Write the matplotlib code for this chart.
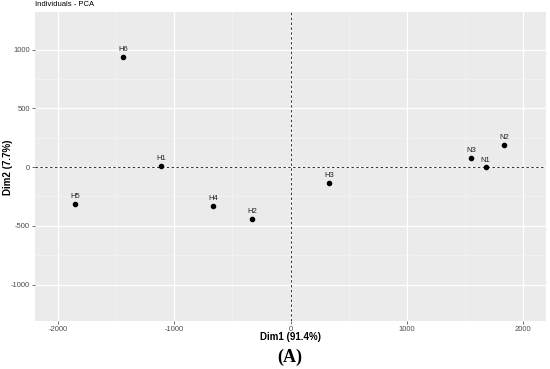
import matplotlib.pyplot as plt

plt.rcParams["font.family"] = ["Liberation Sans", "DejaVu Sans"]

names = ["H1", "H2", "H3", "H4", "H5", "H6", "N1", "N2", "N3"]
dim1 = [-1114, -331, 331, -667, -1854, -1441, 1679, 1839, 1555]
dim2 = [13, -438, -132, -328, -311, 940, -2, 191, 78]

xticks = [-2000, -1000, 0, 1000, 2000]
yticks = [-1000, -500, 0, 500, 1000]

fig = plt.figure(figsize=(5.5, 3.69), dpi=100)
ax = fig.add_axes([35/550, 1-321/369, 511/550, 309/369])
ax.set_facecolor("#EBEBEB")
for s in ax.spines.values():
    s.set_visible(False)

ax.set_xlim(-2198, 2198)
ax.set_ylim(-1310, 1320)
ax.set_xticks(xticks, [str(v) for v in xticks])
ax.set_yticks(yticks, [str(v) for v in yticks])
ax.set_xticks([-1500, -500, 500, 1500], minor=True)
ax.set_yticks([-750, -250, 250, 750], minor=True)
ax.grid(which="major", color="white", lw=0.9)
ax.grid(which="minor", color="#F4F4F4", lw=0.5)
ax.set_axisbelow(True)
ax.tick_params(which="major", length=2, width=0.5, color="#333333",
               labelsize=5.5, labelcolor="#4D4D4D", pad=1.5)
ax.tick_params(which="minor", length=0)

ax.axhline(0, color="#333333", ls=(0, (2.5, 2.5)), lw=0.7)
ax.axvline(0, color="#333333", ls=(0, (2.5, 2.5)), lw=0.7)

ax.scatter(dim1, dim2, s=9, color="black", zorder=3)
for n, x, y in zip(names, dim1, dim2):
    ax.annotate(n, (x, y), xytext=(0, 2.5), textcoords="offset points",
                ha="center", va="bottom", fontsize=5.5, color="#222222")

fig.text(290/550, 1-337/369, "Dim1 (91.4%)", fontsize=7, fontweight="bold",
         ha="center", va="center")
fig.text(8/550, 1-167/369, "Dim2 (7.7%)", fontsize=7, fontweight="bold",
         ha="center", va="center", rotation=90)
fig.text(35/550, 1-5/369, "Individuals - PCA", fontsize=5.5, ha="left", va="center")
fig.text(290/550, 1-357/369, "(A)", fontsize=13, fontweight="bold",
         family="Liberation Serif", ha="center", va="center")

fig.savefig("out.png", dpi=100)
